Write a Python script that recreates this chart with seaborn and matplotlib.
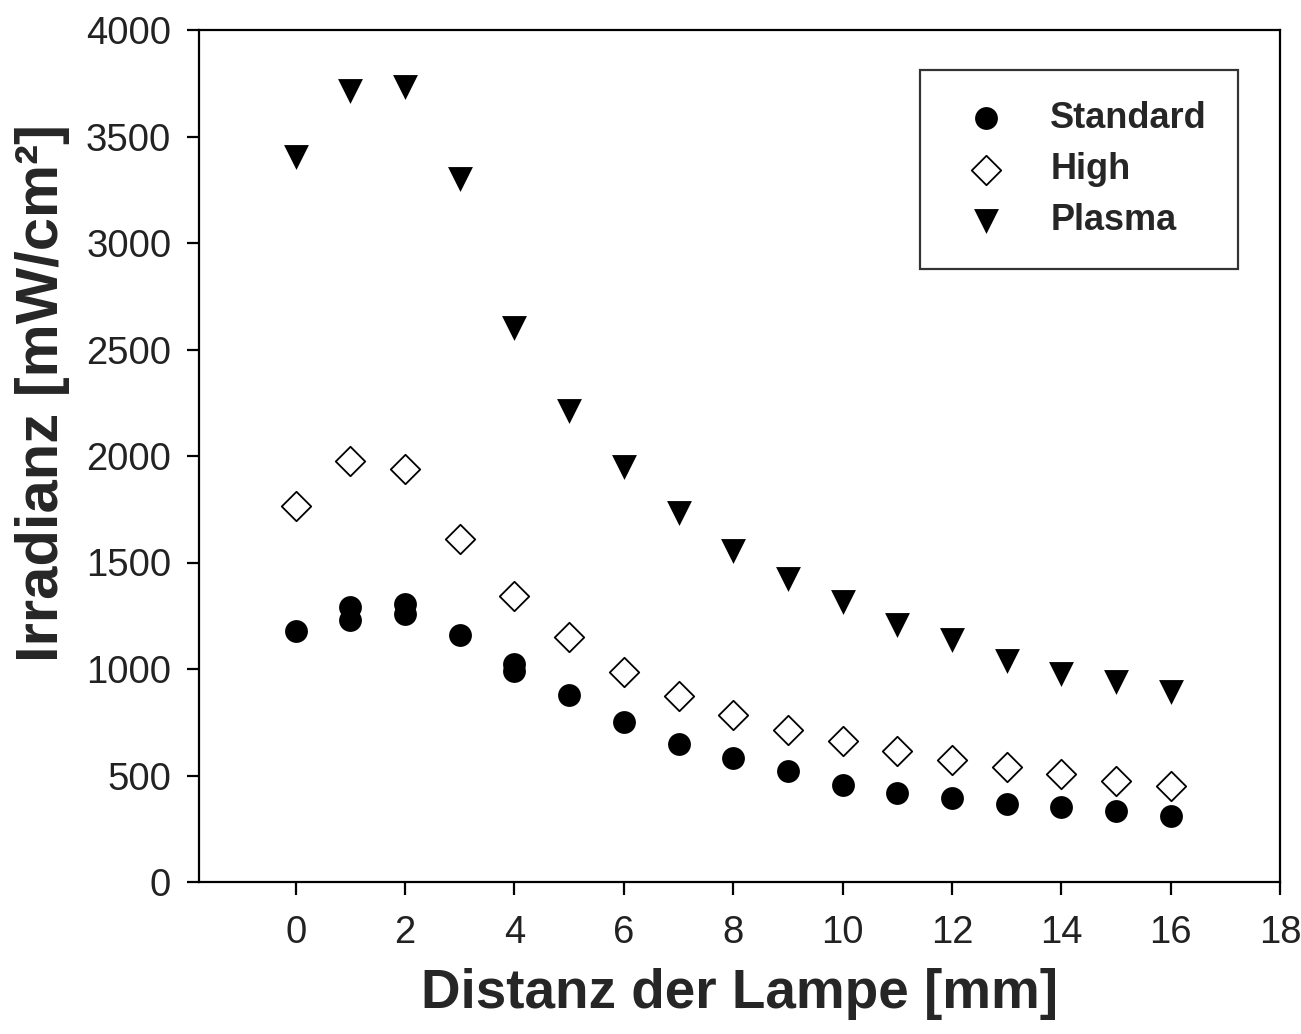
import matplotlib
matplotlib.use("Agg")
import matplotlib.pyplot as plt
import seaborn as sns
import pandas as pd

# Data
std_x = [0, 1, 1, 2, 2, 3, 4, 4, 5, 6, 7, 8, 9, 10, 11, 12, 13, 14, 15, 16]
std_y = [1180, 1292, 1231, 1304, 1259, 1161, 1022, 989, 879, 749, 648, 583, 522,
         456, 420, 396, 368, 354, 334, 310]

high_x = list(range(0, 17))
high_y = [1767, 1975, 1941, 1612, 1344, 1148, 984, 874, 783, 713, 663, 616, 572,
          540, 506, 475, 451]

plasma_x = list(range(0, 17))
plasma_y = [3405, 3715, 3731, 3301, 2599, 2213, 1950, 1734, 1555, 1424, 1316, 1205,
            1137, 1036, 977, 940, 893]

series_names = ["Standard", "High", "Plasma"]
x_ticks = [0, 2, 4, 6, 8, 10, 12, 14, 16, 18]
y_ticks = [0, 500, 1000, 1500, 2000, 2500, 3000, 3500, 4000]

sns.set_theme(style="white")
plt.rcParams['font.family'] = ['Liberation Sans', 'DejaVu Sans']

fig = plt.figure(figsize=(13.01, 10.34), dpi=100)
ax = fig.add_axes([199/1301, 152/1034, (1280-199)/1301, (882-30)/1034])

df_std = pd.DataFrame({"x": std_x, "y": std_y})
df_high = pd.DataFrame({"x": high_x, "y": high_y})
df_plasma = pd.DataFrame({"x": plasma_x, "y": plasma_y})

sns.scatterplot(data=df_std, x="x", y="y", ax=ax, marker="o", s=270,
                color="black", edgecolor="black", linewidth=0, label=series_names[0])
sns.scatterplot(data=df_high, x="x", y="y", ax=ax, marker="D", s=225,
                facecolor="white", edgecolor="black", linewidth=1.3, label=series_names[1])
sns.scatterplot(data=df_plasma, x="x", y="y", ax=ax, marker="v", s=320,
                color="black", edgecolor="black", linewidth=0, label=series_names[2])

ax.set_xlim(-1.77, 18)
ax.set_ylim(0, 4000)
ax.set_xticks(x_ticks)
ax.set_yticks(y_ticks)
ax.set_xticklabels([str(v) for v in x_ticks])
ax.set_yticklabels([str(v) for v in y_ticks])

for s in ax.spines.values():
    s.set_visible(True)
    s.set_color("black")
    s.set_linewidth(1.6)

ax.tick_params(axis="both", which="both", direction="out", length=9, width=1.6,
               color="black", labelsize=27.5, labelcolor="#222222",
               bottom=True, left=True, top=False, right=False)
ax.tick_params(axis="x", pad=15)
ax.tick_params(axis="y", pad=11)

ax.set_xlabel("Distanz der Lampe [mm]", fontsize=39.5, fontweight="bold", labelpad=12)
ax.set_ylabel("Irradianz [mW/cm²]", fontsize=43, fontweight="bold")
ax.yaxis.set_label_coords(-0.119, 0.5745)

leg = ax.legend(loc="upper right", bbox_to_anchor=(0.961, 0.953), frameon=True,
                fancybox=False, shadow=False, prop={"size": 26, "weight": "bold"},
                handletextpad=0.8, labelspacing=0.45, borderpad=0.85,
                handlelength=1.95, borderaxespad=0)
leg.get_frame().set_edgecolor("black")
leg.get_frame().set_linewidth(1.6)

fig.savefig("out.png", dpi=100)
